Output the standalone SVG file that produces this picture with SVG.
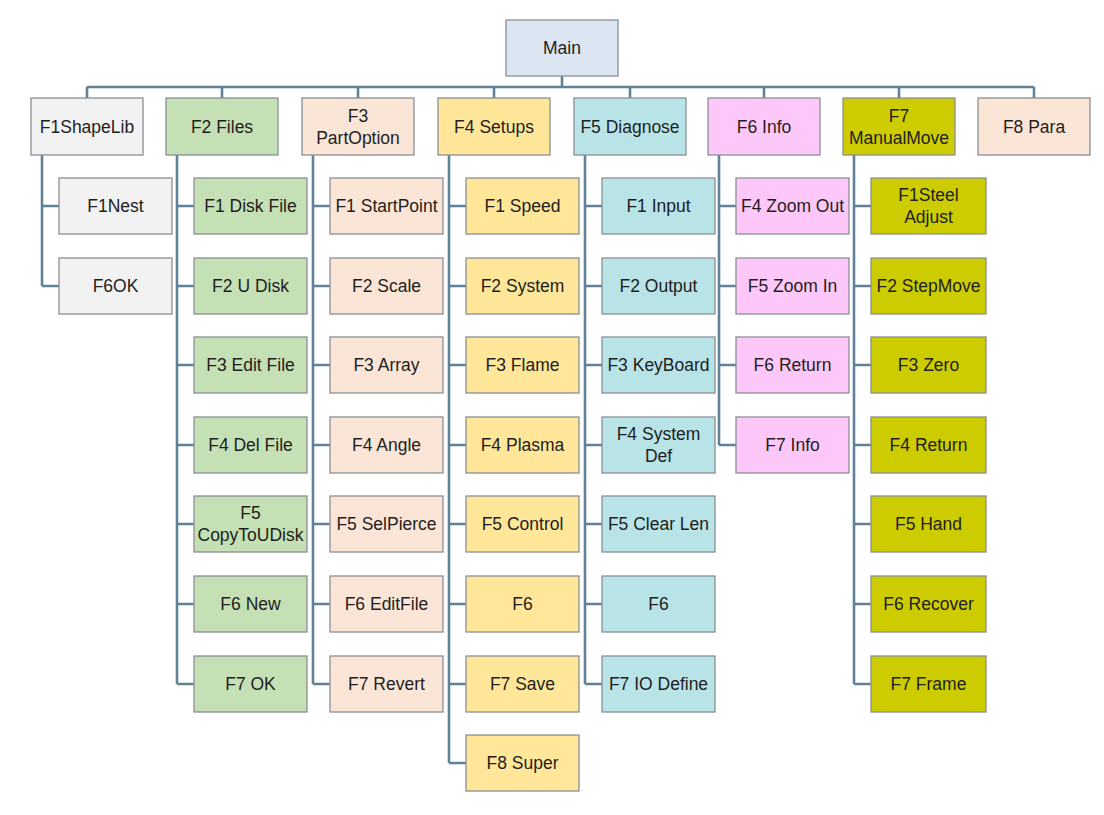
<svg xmlns="http://www.w3.org/2000/svg" width="1104" height="815" viewBox="0 0 1104 815">
<style>
rect{stroke:#8a8f94;stroke-width:1.3}
text{font-family:"Liberation Sans",Arial,sans-serif;font-size:17.5px;fill:#1e1e1e;text-anchor:middle;dominant-baseline:central}
.main{fill:#dce6f2}.c1{fill:#f2f2f2}.c2{fill:#c5e0b4}.c3{fill:#fbe5d6}.c4{fill:#ffe699}.c5{fill:#b8e4e8}.c6{fill:#fdc8f9}.c7{fill:#cccc00}
#connectors path{fill:none;stroke:#5f8299;stroke-width:2.6}
</style>
<rect width="1104" height="815" fill="#fff" style="stroke:none"/>
<g id="connectors">
<path d="M562 76V87M87 87H1034M87 87V98M222 87V98M358 87V98M494 87V98M630 87V98M764 87V98M899 87V98M1034 87V98"/>
<path d="M42 155V286M42 206H59M42 286H59"/>
<path d="M177 155V684M177 206H194M177 286H194M177 365H194M177 445H194M177 524H194M177 604H194M177 684H194"/>
<path d="M313 155V684M313 206H330M313 286H330M313 365H330M313 445H330M313 524H330M313 604H330M313 684H330"/>
<path d="M449 155V763M449 206H466M449 286H466M449 365H466M449 445H466M449 524H466M449 604H466M449 684H466M449 763H466"/>
<path d="M585 155V684M585 206H602M585 286H602M585 365H602M585 445H602M585 524H602M585 604H602M585 684H602"/>
<path d="M719 155V445M719 206H736M719 286H736M719 365H736M719 445H736"/>
<path d="M854 155V684M854 206H871M854 286H871M854 365H871M854 445H871M854 524H871M854 604H871M854 684H871"/>
</g>
<g id="main"><rect class="main" x="506" y="20" width="112" height="56"/><text x="562" y="48">Main</text></g>
<g id="f1shapelib"><rect class="c1" x="31" y="98" width="112" height="57"/><text x="87" y="126.5">F1ShapeLib</text></g>
<g id="f2files"><rect class="c2" x="166" y="98" width="112" height="57"/><text x="222" y="126.5">F2 Files</text></g>
<g id="f3partoption"><rect class="c3" x="302" y="98" width="112" height="57"/><text x="358" y="115.5">F3</text><text x="358" y="137.5">PartOption</text></g>
<g id="f4setups"><rect class="c4" x="438" y="98" width="112" height="57"/><text x="494" y="126.5">F4 Setups</text></g>
<g id="f5diagnose"><rect class="c5" x="574" y="98" width="112" height="57"/><text x="630" y="126.5">F5 Diagnose</text></g>
<g id="f6info"><rect class="c6" x="708" y="98" width="112" height="57"/><text x="764" y="126.5">F6 Info</text></g>
<g id="f7manualmove"><rect class="c7" x="843" y="98" width="112" height="57"/><text x="899" y="115.5">F7</text><text x="899" y="137.5">ManualMove</text></g>
<g id="f8para"><rect class="c3" x="978" y="98" width="112" height="57"/><text x="1034" y="126.5">F8 Para</text></g>

<g id="c1-1"><rect class="c1" x="59" y="178" width="113" height="56"/><text x="115.5" y="206">F1Nest</text></g>
<g id="c1-2"><rect class="c1" x="59" y="258" width="113" height="56"/><text x="115.5" y="286">F6OK</text></g>

<g id="c2-1"><rect class="c2" x="194" y="178" width="113" height="56"/><text x="250.5" y="206">F1 Disk File</text></g>
<g id="c2-2"><rect class="c2" x="194" y="258" width="113" height="56"/><text x="250.5" y="286">F2 U Disk</text></g>
<g id="c2-3"><rect class="c2" x="194" y="337" width="113" height="56"/><text x="250.5" y="365">F3 Edit File</text></g>
<g id="c2-4"><rect class="c2" x="194" y="417" width="113" height="56"/><text x="250.5" y="445">F4 Del File</text></g>
<g id="c2-5"><rect class="c2" x="194" y="496" width="113" height="56"/><text x="250.5" y="513">F5</text><text x="250.5" y="535">CopyToUDisk</text></g>
<g id="c2-6"><rect class="c2" x="194" y="576" width="113" height="56"/><text x="250.5" y="604">F6 New</text></g>
<g id="c2-7"><rect class="c2" x="194" y="656" width="113" height="56"/><text x="250.5" y="684">F7 OK</text></g>

<g id="c3-1"><rect class="c3" x="330" y="178" width="113" height="56"/><text x="386.5" y="206">F1 StartPoint</text></g>
<g id="c3-2"><rect class="c3" x="330" y="258" width="113" height="56"/><text x="386.5" y="286">F2 Scale</text></g>
<g id="c3-3"><rect class="c3" x="330" y="337" width="113" height="56"/><text x="386.5" y="365">F3 Array</text></g>
<g id="c3-4"><rect class="c3" x="330" y="417" width="113" height="56"/><text x="386.5" y="445">F4 Angle</text></g>
<g id="c3-5"><rect class="c3" x="330" y="496" width="113" height="56"/><text x="386.5" y="524">F5 SelPierce</text></g>
<g id="c3-6"><rect class="c3" x="330" y="576" width="113" height="56"/><text x="386.5" y="604">F6 EditFile</text></g>
<g id="c3-7"><rect class="c3" x="330" y="656" width="113" height="56"/><text x="386.5" y="684">F7 Revert</text></g>

<g id="c4-1"><rect class="c4" x="466" y="178" width="113" height="56"/><text x="522.5" y="206">F1 Speed</text></g>
<g id="c4-2"><rect class="c4" x="466" y="258" width="113" height="56"/><text x="522.5" y="286">F2 System</text></g>
<g id="c4-3"><rect class="c4" x="466" y="337" width="113" height="56"/><text x="522.5" y="365">F3 Flame</text></g>
<g id="c4-4"><rect class="c4" x="466" y="417" width="113" height="56"/><text x="522.5" y="445">F4 Plasma</text></g>
<g id="c4-5"><rect class="c4" x="466" y="496" width="113" height="56"/><text x="522.5" y="524">F5 Control</text></g>
<g id="c4-6"><rect class="c4" x="466" y="576" width="113" height="56"/><text x="522.5" y="604">F6</text></g>
<g id="c4-7"><rect class="c4" x="466" y="656" width="113" height="56"/><text x="522.5" y="684">F7 Save</text></g>
<g id="c4-8"><rect class="c4" x="466" y="735" width="113" height="56"/><text x="522.5" y="763">F8 Super</text></g>

<g id="c5-1"><rect class="c5" x="602" y="178" width="113" height="56"/><text x="658.5" y="206">F1 Input</text></g>
<g id="c5-2"><rect class="c5" x="602" y="258" width="113" height="56"/><text x="658.5" y="286">F2 Output</text></g>
<g id="c5-3"><rect class="c5" x="602" y="337" width="113" height="56"/><text x="658.5" y="365">F3 KeyBoard</text></g>
<g id="c5-4"><rect class="c5" x="602" y="417" width="113" height="56"/><text x="658.5" y="434">F4 System</text><text x="658.5" y="456">Def</text></g>
<g id="c5-5"><rect class="c5" x="602" y="496" width="113" height="56"/><text x="658.5" y="524">F5 Clear Len</text></g>
<g id="c5-6"><rect class="c5" x="602" y="576" width="113" height="56"/><text x="658.5" y="604">F6</text></g>
<g id="c5-7"><rect class="c5" x="602" y="656" width="113" height="56"/><text x="658.5" y="684">F7 IO Define</text></g>

<g id="c6-1"><rect class="c6" x="736" y="178" width="113" height="56"/><text x="792.5" y="206">F4 Zoom Out</text></g>
<g id="c6-2"><rect class="c6" x="736" y="258" width="113" height="56"/><text x="792.5" y="286">F5 Zoom In</text></g>
<g id="c6-3"><rect class="c6" x="736" y="337" width="113" height="56"/><text x="792.5" y="365">F6 Return</text></g>
<g id="c6-4"><rect class="c6" x="736" y="417" width="113" height="56"/><text x="792.5" y="445">F7 Info</text></g>

<g id="c7-1"><rect class="c7" x="871" y="178" width="115" height="56"/><text x="928.5" y="195">F1Steel</text><text x="928.5" y="217">Adjust</text></g>
<g id="c7-2"><rect class="c7" x="871" y="258" width="115" height="56"/><text x="928.5" y="286">F2 StepMove</text></g>
<g id="c7-3"><rect class="c7" x="871" y="337" width="115" height="56"/><text x="928.5" y="365">F3 Zero</text></g>
<g id="c7-4"><rect class="c7" x="871" y="417" width="115" height="56"/><text x="928.5" y="445">F4 Return</text></g>
<g id="c7-5"><rect class="c7" x="871" y="496" width="115" height="56"/><text x="928.5" y="524">F5 Hand</text></g>
<g id="c7-6"><rect class="c7" x="871" y="576" width="115" height="56"/><text x="928.5" y="604">F6 Recover</text></g>
<g id="c7-7"><rect class="c7" x="871" y="656" width="115" height="56"/><text x="928.5" y="684">F7 Frame</text></g>
</svg>
